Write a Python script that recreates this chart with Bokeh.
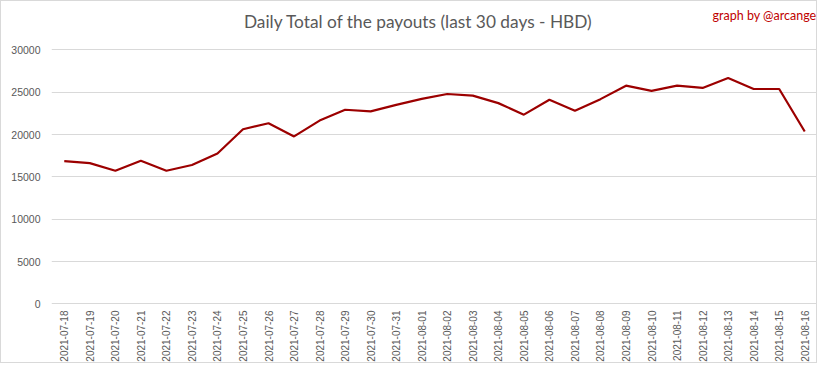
import math
from bokeh.plotting import figure
from bokeh.models import Range1d, FactorRange, FixedTicker, NumeralTickFormatter
from bokeh.core.properties import value
from bokeh.embed import file_html
from bokeh.resources import INLINE

dates = [
    "2021-07-18", "2021-07-19", "2021-07-20", "2021-07-21", "2021-07-22",
    "2021-07-23", "2021-07-24", "2021-07-25", "2021-07-26", "2021-07-27",
    "2021-07-28", "2021-07-29", "2021-07-30", "2021-07-31", "2021-08-01",
    "2021-08-02", "2021-08-03", "2021-08-04", "2021-08-05", "2021-08-06",
    "2021-08-07", "2021-08-08", "2021-08-09", "2021-08-10", "2021-08-11",
    "2021-08-12", "2021-08-13", "2021-08-14", "2021-08-15", "2021-08-16",
]
payouts = [
    16870, 16640, 15740, 16910, 15740,
    16410, 17770, 20640, 21340, 19790,
    21660, 22940, 22740, 23520, 24220,
    24800, 24610, 23720, 22360, 24110,
    22820, 24190, 25780, 25160, 25780,
    25510, 26680, 25390, 25390, 20370,
]
y_ticks = [0, 5000, 10000, 15000, 20000, 25000, 30000]
title_text = "Daily Total of the payouts (last 30 days - HBD)"
credit_text = "graph by @arcange"

# frame extends above the value axis so the headings can sit inside it
Y_MIN, Y_MAX = -60, 35603
PX = (Y_MAX - Y_MIN) / 305.0  # data units per pixel

p = figure(
    width=817, height=363,
    x_range=FactorRange(*dates),
    y_range=Range1d(Y_MIN, Y_MAX),
    output_backend="svg", toolbar_location=None,
    min_border_left=50, min_border_right=1,
    min_border_top=1, min_border_bottom=57,
)
p.styles = {"border": "1px solid #d9d9d9"}
p.outline_line_color = None
p.background_fill_color = "white"
p.border_fill_color = "white"

p.line(x=dates, y=payouts, line_color="#9c0000", line_width=2.2)

p.xgrid.grid_line_color = None
p.ygrid.grid_line_color = "#d9d9d9"
p.ygrid.grid_line_width = 1

p.yaxis.ticker = FixedTicker(ticks=y_ticks)
p.yaxis.formatter = NumeralTickFormatter(format="0")
for ax in (p.xaxis[0], p.yaxis[0]):
    ax.axis_line_color = None
    ax.major_tick_line_color = None
    ax.minor_tick_line_color = None
    ax.major_tick_in = 0
    ax.major_tick_out = 0
    ax.minor_tick_in = 0
    ax.minor_tick_out = 0
    ax.major_label_text_color = "#595959"
    ax.major_label_text_font = "Liberation Sans"

p.yaxis.major_label_text_font_size = "10.5px"
p.yaxis.major_label_standoff = 11
p.xaxis.major_label_text_font_size = "10px"
p.xaxis.major_label_orientation = math.pi / 2
p.xaxis.major_label_standoff = 6

top = y_ticks[-1]
p.text(x=[14.37], y=[top + 29 * PX], text=[title_text],
       text_align="center", text_baseline="middle",
       text_font=value("Lato"), text_font_size="17.3px", text_color="#595959")
p.text(x=[29.96], y=[top + 35 * PX], text=[credit_text],
       text_align="right", text_baseline="middle",
       text_font=value("Lato"), text_font_size="12.5px", text_color="#c00000")

open("out.html", "w").write(file_html(p, INLINE))
